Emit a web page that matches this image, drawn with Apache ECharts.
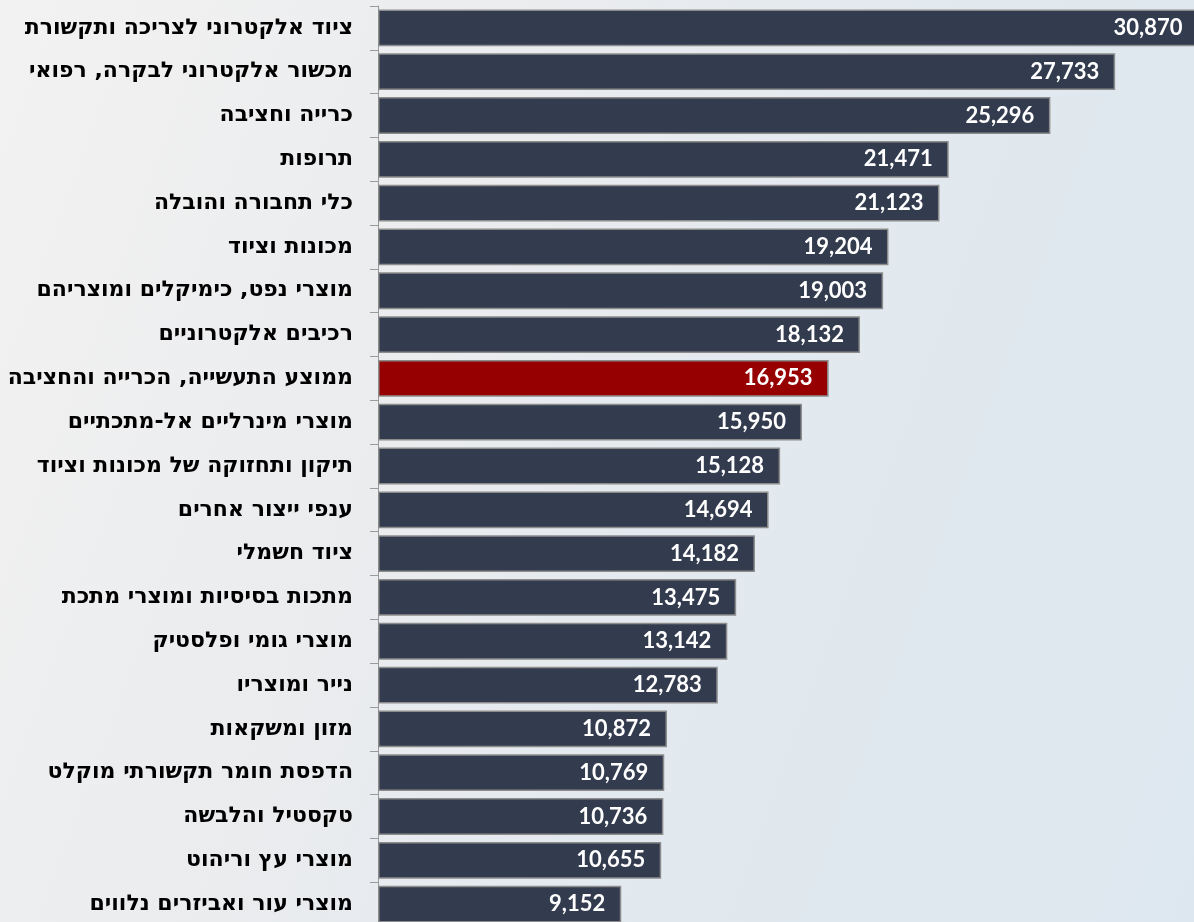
<!DOCTYPE html>
<html>
<head>
<meta charset="utf-8">
<script src="https://cdn.jsdelivr.net/npm/echarts@6/dist/echarts.min.js"></script>
<style>
  html, body { margin: 0; padding: 0; }
  #chart {
    width: 1194px; height: 922px;
    background: linear-gradient(110deg, #f2f2f2 0%, #ebecee 35%, #e2e9ef 60%, #dde7ef 100%);
  }
</style>
</head>
<body>
<div id="chart"></div>
<script>
const categories = [
    'ציוד אלקטרוני לצריכה ותקשורת',
    'מכשור אלקטרוני לבקרה, רפואי',
    'כרייה וחציבה',
    'תרופות',
    'כלי תחבורה והובלה',
    'מכונות וציוד',
    'מוצרי נפט, כימיקלים ומוצריהם',
    'רכיבים אלקטרוניים',
    'ממוצע התעשייה, הכרייה והחציבה',
    'מוצרי מינרליים אל-מתכתיים',
    'תיקון ותחזוקה של מכונות וציוד',
    'ענפי ייצור אחרים',
    'ציוד חשמלי',
    'מתכות בסיסיות ומוצרי מתכת',
    'מוצרי גומי ופלסטיק',
    'נייר ומוצריו',
    'מזון ומשקאות',
    'הדפסת חומר תקשורתי מוקלט',
    'טקסטיל והלבשה',
    'מוצרי עץ וריהוט',
    'מוצרי עור ואביזרים נלווים'
];
const values = [30870, 27733, 25296, 21471, 21123, 19204, 19003, 18132, 16953, 15950,
    15128, 14694, 14182, 13475, 13142, 12783, 10872, 10769, 10736, 10655, 9152];
const highlight = 'ממוצע התעשייה, הכרייה והחציבה';

const chart = echarts.init(document.getElementById('chart'));

const option = {
    backgroundColor: 'transparent',
    animation: false,
    grid: { left: 378, width: 824, top: 6, height: 920, outerBoundsMode: 'none', containLabel: false },
    xAxis: {
        type: 'value',
        min: 0,
        max: 31000,
        show: false
    },
    yAxis: {
        type: 'category',
        inverse: true,
        data: categories,
        axisLine: { show: true, lineStyle: { color: '#9a9a9a', width: 1 } },
        axisTick: { show: true, length: 8, lineStyle: { color: '#9a9a9a' } },
        axisLabel: {
            margin: 25,
            color: '#000',
            fontSize: 22,
            fontWeight: 'bold',
            fontFamily: '"DejaVu Sans", sans-serif'
        }
    },
    series: [{
        type: 'bar',
        barCategoryGap: '16%',
        data: values.map((v, i) => ({
            value: v,
            itemStyle: { color: categories[i] === highlight ? '#960000' : '#333c4f' }
        })),
        itemStyle: { borderColor: '#8c8c8c', borderWidth: 1.5 },
        label: {
            show: true,
            position: 'insideRight',
            distance: 16,
            color: '#fff',
            fontSize: 22,
            fontWeight: 'bold',
            fontFamily: 'Lato, "Open Sans", sans-serif',
            formatter: p => p.value.toLocaleString('en-US')
        }
    }]
};

chart.setOption(option);
</script>
</body>
</html>
